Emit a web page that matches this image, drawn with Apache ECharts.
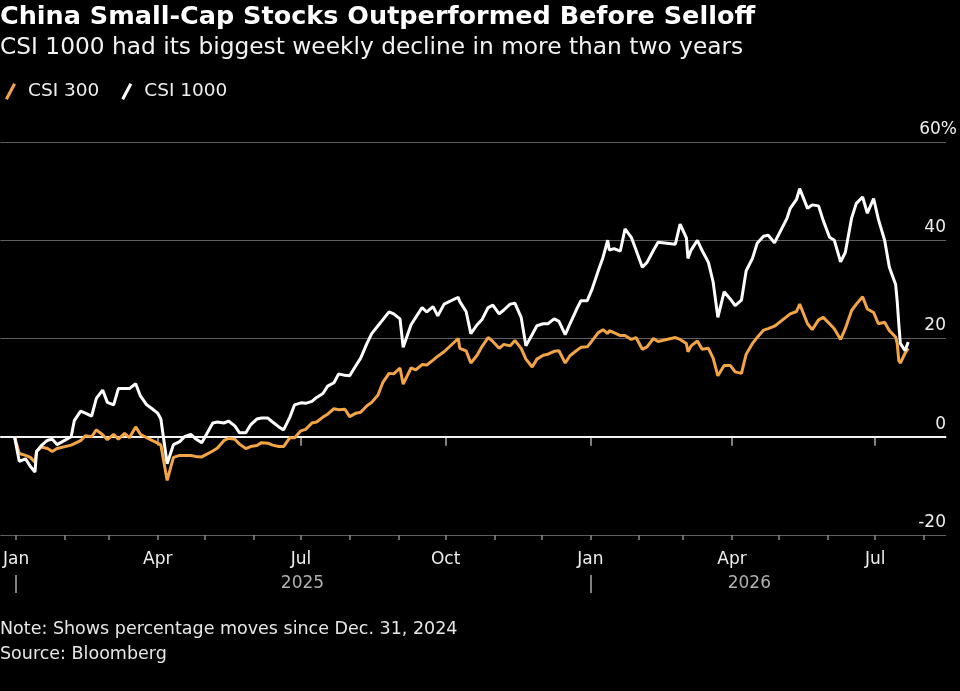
<!DOCTYPE html>
<html>
	<head>
		<meta charset="utf-8" />
		<title>China Small-Cap Stocks Outperformed Before Selloff</title>
		<script src="https://cdn.jsdelivr.net/npm/echarts@6/dist/echarts.min.js"></script>
		<style>
			* {
				margin: 0;
				padding: 0;
				box-sizing: border-box;
			}
			body {
				background: #000;
			}
		</style>
	</head>
	<body>
		<div id="main" style="width: 960px; height: 691px"></div>
		<script>
			// 数据：相对 2024-12-31 的涨跌幅（%）
			var dates = [
				'2024-12-31', '2025-01-03', '2025-01-07', '2025-01-10', '2025-01-13', '2025-01-14', '2025-01-17', '2025-01-21',
				'2025-01-24', '2025-01-27', '2025-02-05', '2025-02-07', '2025-02-11', '2025-02-14', '2025-02-18', '2025-02-21',
				'2025-02-25', '2025-02-28', '2025-03-04', '2025-03-07', '2025-03-11', '2025-03-14', '2025-03-18', '2025-03-21',
				'2025-03-25', '2025-03-28', '2025-04-01', '2025-04-03', '2025-04-07', '2025-04-11', '2025-04-15', '2025-04-18',
				'2025-04-22', '2025-04-25', '2025-04-29', '2025-05-06', '2025-05-09', '2025-05-13', '2025-05-16', '2025-05-20',
				'2025-05-23', '2025-05-27', '2025-05-30', '2025-06-03', '2025-06-06', '2025-06-10', '2025-06-13', '2025-06-17',
				'2025-06-20', '2025-06-24', '2025-06-27', '2025-07-01', '2025-07-04', '2025-07-08', '2025-07-11', '2025-07-15',
				'2025-07-18', '2025-07-22', '2025-07-25', '2025-07-29', '2025-08-01', '2025-08-05', '2025-08-08', '2025-08-12',
				'2025-08-15', '2025-08-19', '2025-08-22', '2025-08-26', '2025-08-29', '2025-09-02', '2025-09-04', '2025-09-09',
				'2025-09-12', '2025-09-16', '2025-09-19', '2025-09-23', '2025-09-26', '2025-09-30', '2025-10-09', '2025-10-10',
				'2025-10-14', '2025-10-17', '2025-10-21', '2025-10-24', '2025-10-28', '2025-10-31', '2025-11-04', '2025-11-07',
				'2025-11-11', '2025-11-14', '2025-11-18', '2025-11-21', '2025-11-25', '2025-11-28', '2025-12-02', '2025-12-05',
				'2025-12-09', '2025-12-12', '2025-12-16', '2025-12-19', '2025-12-23', '2025-12-26', '2025-12-30', '2026-01-02',
				'2026-01-06', '2026-01-09', '2026-01-12', '2026-01-13', '2026-01-16', '2026-01-20', '2026-01-23', '2026-01-27',
				'2026-01-30', '2026-02-03', '2026-02-06', '2026-02-10', '2026-02-13', '2026-02-24', '2026-02-27', '2026-03-03',
				'2026-03-04', '2026-03-06', '2026-03-10', '2026-03-13', '2026-03-17', '2026-03-20', '2026-03-23', '2026-03-27',
				'2026-03-31', '2026-04-03', '2026-04-07', '2026-04-10', '2026-04-14', '2026-04-17', '2026-04-21', '2026-04-24',
				'2026-04-28', '2026-05-06', '2026-05-08', '2026-05-12', '2026-05-14', '2026-05-19', '2026-05-22', '2026-05-26',
				'2026-05-29', '2026-06-02', '2026-06-05', '2026-06-09', '2026-06-12', '2026-06-16', '2026-06-19', '2026-06-23',
				'2026-06-26', '2026-06-30', '2026-07-03', '2026-07-07', '2026-07-10', '2026-07-14', '2026-07-15', '2026-07-16',
				'2026-07-17', '2026-07-20', '2026-07-22',
			];
			var csi300 = [
				0, -3.4, -3.8, -4.2, -5.2, -3.0, -2.1, -2.4,
				-3.0, -2.4, -1.7, -1.4, -0.8, 0.2, 0.0, 1.4,
				0.4, -0.6, 0.5, -0.5, 0.7, -0.2, 2.0, 0.5,
				-0.2, -0.7, -1.3, -1.7, -8.9, -4.2, -3.8, -3.8,
				-3.8, -4.0, -4.1, -2.9, -2.3, -0.8, -0.3, -0.5,
				-1.5, -2.4, -2.0, -1.8, -1.2, -1.3, -1.7, -2.0,
				-2.0, -0.2, -0.2, 1.2, 1.5, 2.8, 3.0, 4.0,
				4.6, 5.7, 5.5, 5.6, 4.1, 4.8, 5.0, 6.3,
				7.0, 8.5, 11.0, 12.9, 12.8, 14.0, 10.7, 14.0,
				13.6, 14.7, 14.6, 15.6, 16.4, 17.3, 20.0, 18.0,
				17.5, 15.0, 16.6, 18.3, 20.2, 19.4, 18.0, 18.8,
				18.5, 19.6, 18.0, 15.8, 14.2, 15.8, 16.6, 16.8,
				17.4, 17.5, 15.0, 16.5, 17.5, 18.2, 18.3, 19.5,
				21.2, 21.8, 21.0, 21.6, 21.2, 20.6, 20.6, 19.8,
				20.2, 17.8, 18.3, 20.0, 19.4, 20.2, 19.8, 19.0,
				17.3, 18.5, 19.5, 17.8, 18.0, 16.0, 12.4, 14.5,
				14.5, 13.2, 12.9, 16.8, 19.0, 20.2, 21.7, 22.0,
				22.5, 24.5, 25.0, 25.5, 27.0, 23.0, 21.8, 23.8,
				24.3, 23.0, 22.0, 19.8, 22.0, 25.7, 27.0, 28.5,
				26.0, 25.3, 23.0, 23.3, 21.6, 20.3, 19.0, 15.5,
				15.0, 17.0, 18.0,
			];
			var csi1000 = [
				0, -5.0, -4.5, -6.0, -7.2, -3.0, -1.8, -0.7,
				-0.5, -1.6, 0.0, 3.3, 5.2, 4.8, 4.2, 7.8,
				9.5, 7.0, 6.5, 9.8, 9.8, 9.8, 10.8, 8.3,
				6.5, 5.8, 4.8, 3.6, -5.5, -1.6, -1.0, 0.0,
				0.5, -0.4, -1.2, 2.8, 3.0, 2.8, 3.2, 2.2,
				0.8, 0.8, 2.4, 3.6, 3.8, 3.8, 3.0, 2.0,
				1.4, 4.0, 6.5, 6.9, 6.8, 7.2, 8.0, 8.8,
				10.3, 11.0, 12.8, 12.5, 12.4, 14.5, 16.0, 19.0,
				21.0, 22.6, 23.8, 25.4, 25.0, 24.0, 18.2, 22.8,
				24.3, 26.3, 25.4, 26.5, 24.6, 27.0, 28.4, 27.5,
				25.5, 21.0, 22.8, 23.8, 26.3, 26.8, 25.0, 25.8,
				27.0, 27.2, 24.3, 18.5, 20.8, 22.6, 23.0, 23.0,
				24.0, 23.5, 20.8, 23.0, 25.8, 27.7, 27.7, 30.0,
				33.8, 36.5, 40.0, 38.0, 38.3, 37.8, 42.3, 40.6,
				38.0, 34.5, 35.5, 37.9, 39.6, 39.2, 43.3, 40.5,
				36.3, 38.0, 40.0, 37.9, 35.5, 31.5, 24.3, 29.5,
				28.0, 26.7, 27.8, 33.8, 36.3, 39.4, 40.8, 41.0,
				39.5, 44.5, 46.5, 48.3, 50.5, 46.5, 47.2, 47.0,
				44.0, 40.6, 40.0, 35.6, 37.5, 44.5, 47.5, 48.8,
				45.5, 48.5, 44.3, 40.0, 34.5, 31.0, 27.5, 23.0,
				19.0, 17.5, 19.3,
			];

			// 刻度
			var quarterTicks = ['2025-01-01', '2025-04-01', '2025-07-01', '2025-10-01', '2026-01-01', '2026-04-01', '2026-07-01'];
			var yearTicks = ['2025-01-01', '2026-01-01'];
			var yearLabelDates = ['2025-07-02', '2026-04-12'];
			var monthNames = ['Jan', 'Feb', 'Mar', 'Apr', 'May', 'Jun', 'Jul', 'Aug', 'Sep', 'Oct', 'Nov', 'Dec'];

			var FONT = 'DejaVu Sans';
			var axisMin = '2024-12-22';
			var axisMax = '2026-08-15';

			// 按日历日生成类目轴
			function dayList(from, to) {
				var out = [];
				var t = Date.UTC(+from.slice(0, 4), +from.slice(5, 7) - 1, +from.slice(8, 10));
				var end = Date.UTC(+to.slice(0, 4), +to.slice(5, 7) - 1, +to.slice(8, 10));
				while (t <= end) {
					out.push(new Date(t).toISOString().slice(0, 10));
					t += 86400000;
				}
				return out;
			}
			var allDays = dayList(axisMin, axisMax);

			function pairs(vals) {
				return dates.map(function (d, i) {
					return [d, vals[i]];
				});
			}

			var myChart = echarts.init(document.getElementById('main'));
			var option = {
				backgroundColor: '#000',
				animation: false,
				textStyle: {fontFamily: FONT},
				title: [
					{
						text: 'China Small-Cap Stocks Outperformed Before Selloff',
						left: 0,
						top: 4,
						padding: 0,
						textStyle: {color: '#fff', fontSize: 25.5, fontWeight: 'bold', fontFamily: FONT},
					},
					{
						text: 'CSI 1000 had its biggest weekly decline in more than two years',
						left: 0,
						top: 36,
						padding: 0,
						textStyle: {color: '#f2f2f2', fontSize: 23.3, fontWeight: 'normal', fontFamily: FONT},
					},
					{
						text: 'Note: Shows percentage moves since Dec. 31, 2024\nSource: Bloomberg',
						left: 0,
						top: 617,
						padding: 0,
						textStyle: {color: '#e6e6e6', fontSize: 17.5, lineHeight: 25, fontWeight: 'normal', fontFamily: FONT},
					},
				],
				legend: {
					left: 5,
					top: 82,
					padding: 0,
					itemWidth: 13,
					itemHeight: 17,
					itemGap: 22,
					icon: 'path://M0,17 L9,0 L12,1.6 L3,18.6 Z',
					textStyle: {color: '#eee', fontSize: 18.5, fontFamily: FONT, padding: [0, 0, 0, 6]},
					data: ['CSI 300', 'CSI 1000'],
				},
				grid: {
					left: 0,
					right: 14,
					top: 142,
					bottom: 156,
				},
				xAxis: [
					{
						type: 'category',
						position: 'bottom',
						data: allDays,
						boundaryGap: false,
						axisLine: {lineStyle: {color: '#8a8a8a', width: 1.5}},
						axisTick: {
							length: 9,
							lineStyle: {color: '#aaa', width: 1.5},
							interval: function (i, v) {
								return quarterTicks.indexOf(v) >= 0;
							},
						},
						axisLabel: {
							margin: 16,
							color: '#eee',
							fontSize: 17,
							fontFamily: FONT,
							interval: function (i, v) {
								return quarterTicks.indexOf(v) >= 0;
							},
							formatter: function (v) {
								return monthNames[+v.slice(5, 7) - 1];
							},
						},
						splitLine: {show: false},
					},
					{
						type: 'category',
						position: 'bottom',
						data: allDays,
						boundaryGap: false,
						axisLine: {show: false},
						axisTick: {
							length: 5,
							lineStyle: {color: '#8a8a8a', width: 1.5},
							interval: function (i, v) {
								return v.slice(8, 10) === '01';
							},
						},
						axisLabel: {show: false},
						splitLine: {show: false},
					},
					{
						type: 'category',
						position: 'bottom',
						data: allDays,
						boundaryGap: false,
						offset: 40,
						axisLine: {show: false},
						axisTick: {
							length: 18,
							lineStyle: {color: '#aaa', width: 1.5},
							interval: function (i, v) {
								return yearTicks.indexOf(v) >= 0;
							},
						},
						axisLabel: {
							margin: 0,
							color: '#b0b0b0',
							fontSize: 17,
							fontFamily: FONT,
							interval: function (i, v) {
								return yearLabelDates.indexOf(v) >= 0;
							},
							formatter: function (v) {
								return v.slice(0, 4);
							},
						},
						splitLine: {show: false},
					},
				],
				yAxis: {
					type: 'value',
					position: 'right',
					min: -20,
					max: 60,
					interval: 20,
					axisLine: {show: false},
					axisTick: {show: false},
					axisLabel: {
						inside: true,
						margin: -11,
						verticalAlign: 'bottom',
						padding: [0, 0, 4, 0],
						color: '#eee',
						fontSize: 17,
						fontFamily: FONT,
						formatter: function (v) {
							return v === 60 ? '{n|60%}' : '{n|' + v + '}{s| }';
						},
						rich: {
							n: {color: '#eee', fontSize: 17, fontFamily: FONT},
							s: {width: 11, fontSize: 17},
						},
					},
					splitLine: {lineStyle: {color: '#5f5f5f', width: 1.2}},
				},
				series: [
					{
						name: 'CSI 300',
						type: 'line',
						data: pairs(csi300),
						showSymbol: false,
						color: '#f3a444',
						lineStyle: {color: '#f3a444', width: 3},
						z: 3,
						markLine: {
							silent: true,
							symbol: 'none',
							z: 1,
							label: {show: false},
							lineStyle: {color: '#f5f5f5', width: 2, type: 'solid'},
							data: [{yAxis: 0}],
						},
					},
					{
						name: 'CSI 1000',
						type: 'line',
						data: pairs(csi1000),
						showSymbol: false,
						color: '#ffffff',
						lineStyle: {color: '#ffffff', width: 3},
						z: 4,
					},
				],
			};
			option && myChart.setOption(option);
		</script>
	</body>
</html>
